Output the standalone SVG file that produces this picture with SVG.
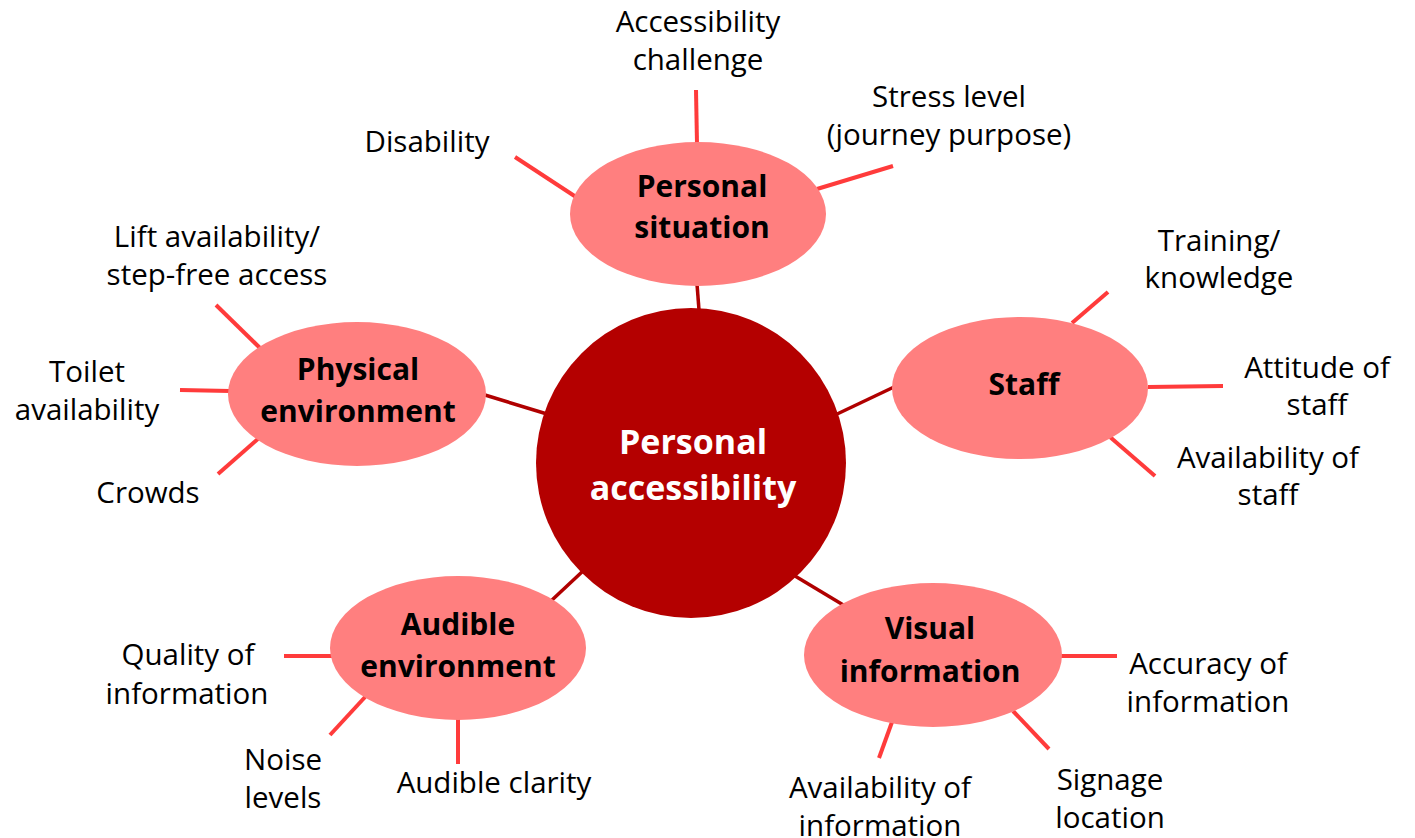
<svg xmlns="http://www.w3.org/2000/svg" width="1415" height="838" viewBox="0 0 1415 838">
  <style>
    .hub { fill: #B40000; }
    .topic { fill: #FF7F7F; }
    .link { stroke: #B00000; stroke-width: 3.5; stroke-linecap: butt; fill: none; }
    .spoke { stroke: #FF3B3B; stroke-width: 4; stroke-linecap: butt; fill: none; }
    .hub-text { font-family: "Open Sans", "Liberation Sans", sans-serif; font-weight: 700; font-size: 34px; fill: #FFFFFF; text-anchor: middle; }
    .topic-text { font-family: "Open Sans", "Liberation Sans", sans-serif; font-weight: 700; font-size: 30px; fill: #000000; text-anchor: middle; }
    .leaf-text { font-family: "Open Sans", "Liberation Sans", sans-serif; font-weight: 400; font-size: 29.5px; fill: #000000; text-anchor: middle; }
  </style>

  <rect x="0" y="0" width="1415" height="838" fill="#FFFFFF"/>

  <!-- connectors: hub-to-topic links and topic-to-factor spokes -->
  <g id="connectors">
    <line class="link" x1="697" y1="284" x2="699" y2="310"/>
    <line class="link" x1="485" y1="395" x2="547" y2="414"/>
    <line class="link" x1="835" y1="415" x2="894" y2="387"/>
    <line class="link" x1="552" y1="600" x2="583" y2="571"/>
    <line class="link" x1="795" y1="576" x2="845" y2="606"/>

    <line class="spoke" x1="696" y1="90" x2="697" y2="144"/>
    <line class="spoke" x1="515" y1="157" x2="576" y2="197"/>
    <line class="spoke" x1="817" y1="189" x2="893" y2="166"/>

    <line class="spoke" x1="216" y1="305" x2="260" y2="348"/>
    <line class="spoke" x1="180" y1="390" x2="230" y2="391"/>
    <line class="spoke" x1="218" y1="474" x2="259" y2="438"/>

    <line class="spoke" x1="1072" y1="323" x2="1108" y2="292"/>
    <line class="spoke" x1="1148" y1="387" x2="1223" y2="386"/>
    <line class="spoke" x1="1110" y1="437" x2="1155" y2="476"/>

    <line class="spoke" x1="284" y1="656" x2="332" y2="656"/>
    <line class="spoke" x1="330" y1="735" x2="366" y2="696"/>
    <line class="spoke" x1="458" y1="718" x2="458" y2="764"/>

    <line class="spoke" x1="1060" y1="656" x2="1117" y2="656"/>
    <line class="spoke" x1="1013" y1="711" x2="1049" y2="749"/>
    <line class="spoke" x1="892" y1="722" x2="879" y2="758"/>
  </g>

  <!-- central hub -->
  <g id="node-personal-accessibility">
    <circle class="hub" cx="691" cy="463" r="155"/>
    <text class="hub-text" x="693" y="454">Personal</text>
    <text class="hub-text" x="693" y="500">accessibility</text>
  </g>

  <!-- topic ellipses -->
  <g id="node-personal-situation">
    <ellipse class="topic" cx="698" cy="214" rx="128" ry="72"/>
    <text class="topic-text" x="702" y="197">Personal</text>
    <text class="topic-text" x="702" y="238">situation</text>
  </g>

  <g id="node-physical-environment">
    <ellipse class="topic" cx="357" cy="394" rx="129" ry="72"/>
    <text class="topic-text" x="358" y="380">Physical</text>
    <text class="topic-text" x="358" y="422">environment</text>
  </g>

  <g id="node-staff">
    <ellipse class="topic" cx="1020" cy="388" rx="128" ry="71"/>
    <text class="topic-text" x="1024" y="395">Staff</text>
  </g>

  <g id="node-audible-environment">
    <ellipse class="topic" cx="458" cy="648" rx="128" ry="72"/>
    <text class="topic-text" x="458" y="635">Audible</text>
    <text class="topic-text" x="458" y="677">environment</text>
  </g>

  <g id="node-visual-information">
    <ellipse class="topic" cx="933" cy="655" rx="129" ry="72"/>
    <text class="topic-text" x="930" y="639">Visual</text>
    <text class="topic-text" x="930" y="682">information</text>
  </g>

  <!-- factor labels -->
  <g id="node-accessibility-challenge">
    <text class="leaf-text" x="698" y="32">Accessibility</text>
    <text class="leaf-text" x="698" y="70">challenge</text>
  </g>
  <g id="node-disability">
    <text class="leaf-text" x="427" y="152">Disability</text>
  </g>
  <g id="node-stress-level">
    <text class="leaf-text" x="949" y="107">Stress level</text>
    <text class="leaf-text" x="949" y="145">(journey purpose)</text>
  </g>

  <g id="node-lift-availability">
    <text class="leaf-text" x="217" y="247">Lift availability/</text>
    <text class="leaf-text" x="217" y="285">step-free access</text>
  </g>
  <g id="node-toilet-availability">
    <text class="leaf-text" x="87" y="382">Toilet</text>
    <text class="leaf-text" x="87" y="420">availability</text>
  </g>
  <g id="node-crowds">
    <text class="leaf-text" x="148" y="503">Crowds</text>
  </g>

  <g id="node-training">
    <text class="leaf-text" x="1219" y="251">Training/</text>
    <text class="leaf-text" x="1219" y="288">knowledge</text>
  </g>
  <g id="node-attitude-of-staff">
    <text class="leaf-text" x="1317" y="378">Attitude of</text>
    <text class="leaf-text" x="1317" y="415">staff</text>
  </g>
  <g id="node-availability-of-staff">
    <text class="leaf-text" x="1268" y="468">Availability of</text>
    <text class="leaf-text" x="1268" y="505">staff</text>
  </g>

  <g id="node-quality-of-information">
    <text class="leaf-text" x="188" y="665">Quality of</text>
    <text class="leaf-text" x="187" y="704">information</text>
  </g>
  <g id="node-noise-levels">
    <text class="leaf-text" x="283" y="770">Noise</text>
    <text class="leaf-text" x="283" y="808">levels</text>
  </g>
  <g id="node-audible-clarity">
    <text class="leaf-text" x="494" y="793">Audible clarity</text>
  </g>

  <g id="node-accuracy-of-information">
    <text class="leaf-text" x="1208" y="674">Accuracy of</text>
    <text class="leaf-text" x="1208" y="712">information</text>
  </g>
  <g id="node-signage-location">
    <text class="leaf-text" x="1110" y="790">Signage</text>
    <text class="leaf-text" x="1110" y="828">location</text>
  </g>
  <g id="node-availability-of-information">
    <text class="leaf-text" x="880" y="798">Availability of</text>
    <text class="leaf-text" x="880" y="836">information</text>
  </g>
</svg>
